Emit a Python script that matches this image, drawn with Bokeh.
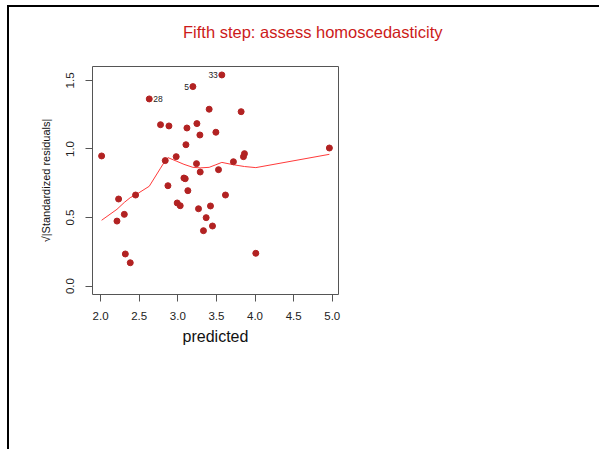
from bokeh.plotting import figure
from bokeh.layouts import column
from bokeh.models import Range1d, FixedTicker, ColumnDataSource, NumeralTickFormatter, Div
from bokeh.embed import file_html
from bokeh.resources import INLINE
from bokeh.core.properties import value

# ---- data ----
predicted = [2.013, 2.212, 2.233, 2.307, 2.320, 2.384, 2.453, 2.630, 2.776, 2.837,
             2.872, 2.885, 2.979, 2.992, 3.031, 3.079, 3.096, 3.105, 3.118, 3.130,
             3.195, 3.242, 3.247, 3.268, 3.286, 3.290, 3.332, 3.367, 3.406, 3.423,
             3.449, 3.493, 3.527, 3.570, 3.617, 3.720, 3.820, 3.850, 3.863, 4.010,
             4.963]
sqrt_std_resid = [0.949, 0.474, 0.635, 0.523, 0.234, 0.170, 0.664, 1.365, 1.177, 0.915,
                  0.732, 1.168, 0.944, 0.606, 0.586, 0.788, 0.783, 1.031, 1.153, 0.696,
                  1.455, 0.893, 1.185, 0.564, 1.102, 0.832, 0.404, 0.499, 1.290, 0.584,
                  0.438, 1.122, 0.849, 1.540, 0.664, 0.907, 1.272, 0.944, 0.966, 0.239,
                  1.007]

smooth_x = [2.013, 2.212, 2.307, 2.384, 2.453, 2.630, 2.776, 2.837, 2.872, 2.979,
            3.079, 3.195, 3.290, 3.406, 3.493, 3.570, 3.720, 3.863, 4.010, 4.963]
smooth_y = [0.480, 0.560, 0.610, 0.645, 0.665, 0.728, 0.860, 0.915, 0.937, 0.912,
            0.888, 0.866, 0.862, 0.866, 0.885, 0.902, 0.885, 0.872, 0.864, 0.961]

id_index = [7, 20, 33]
id_text = ["28", "5", "33"]
id_side = ["right", "left", "left"]

x_ticks = [2.0, 2.5, 3.0, 3.5, 4.0, 4.5, 5.0]
y_ticks = [0.0, 0.5, 1.0, 1.5]

title_text = "Fifth step: assess homoscedasticity"
x_label = "predicted"
y_label = "\u221a|Standardized residuals|"

FONT = "Liberation Sans"

# page offset of the content (slide frame lines sit left/top of it)
OX, OY = 9, 7
TITLE_H = 52

title = Div(text=('<div style="padding-left:174px;padding-top:16px;'
                  'font-family:\'Liberation Sans\';font-size:16.5px;line-height:19px;'
                  'color:#cc1a1a;white-space:nowrap;">' + title_text + '</div>'),
            width=599 - OX, height=TITLE_H, margin=0)

p = figure(width=599 - OX, height=449 - OY - TITLE_H, output_backend="svg",
           toolbar_location=None, title=None,
           x_range=Range1d(1.895, 5.081), y_range=Range1d(-0.0616, 1.6016),
           min_border_left=92 - OX, min_border_right=261,
           min_border_top=66 - OY - TITLE_H, min_border_bottom=155)
p.margin = 0
p.background_fill_color = "white"
p.border_fill_color = "white"
p.outline_line_color = "#555555"
p.outline_line_width = 1
p.xgrid.visible = False
p.ygrid.visible = False

for ax, ticks in ((p.xaxis, x_ticks), (p.yaxis, y_ticks)):
    ax.ticker = FixedTicker(ticks=ticks)
    ax.formatter = NumeralTickFormatter(format="0.0")
    ax.axis_line_color = None
    ax.major_tick_line_color = "#555555"
    ax.major_tick_out = 7
    ax.major_tick_in = 0
    ax.minor_tick_line_color = None
    ax.major_label_text_font = FONT
    ax.major_label_text_font_size = "11.5px"
    ax.major_label_text_color = "#222222"
    ax.axis_label_text_font = FONT
    ax.axis_label_text_font_style = "normal"
    ax.axis_label_text_color = "#111111"

p.xaxis.axis_label = x_label
p.xaxis.axis_label_text_font_size = "16px"
p.xaxis.major_label_standoff = 10
p.xaxis.axis_label_standoff = 5
p.yaxis.axis_label = y_label
p.yaxis.axis_label_text_font_size = "11px"
p.yaxis.major_label_orientation = "vertical"
p.yaxis.major_label_standoff = 11
p.yaxis.axis_label_standoff = 12

src = ColumnDataSource(dict(x=predicted, y=sqrt_std_resid))
p.line(smooth_x, smooth_y, line_color="#ff3a3a", line_width=1)
p.scatter("x", "y", source=src, size=6, fill_color="#b22222", line_color="#b22222")

for i, t, side in zip(id_index, id_text, id_side):
    off = 4 if side == "right" else -4
    align = "left" if side == "right" else "right"
    p.text(x=[predicted[i]], y=[sqrt_std_resid[i]], text=[t], x_offset=off,
           text_align=align, text_baseline="middle", text_font=value(FONT),
           text_font_size="8.5px", text_color="#222222")

page = column(title, p, spacing=0,
              styles={"border-top": "2px solid black",
                      "border-left": "2px solid black",
                      "margin-left": "7px", "margin-top": "5px"})

open("out.html", "w").write(file_html(page, INLINE))
